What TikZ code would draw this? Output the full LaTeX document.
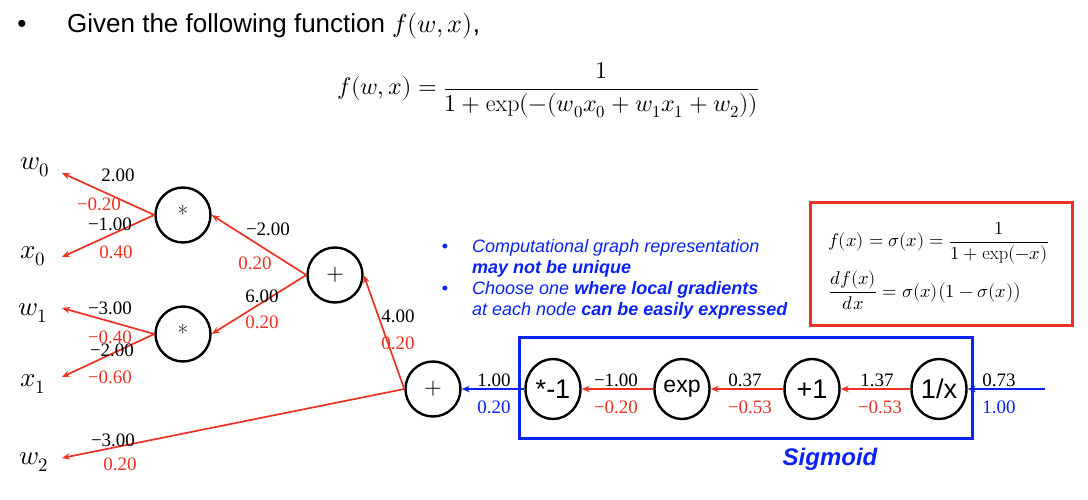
\documentclass[tikz,border=0pt]{standalone}
\usepackage{fontspec}
\usepackage{unicode-math}
\setmathfont{Latin Modern Math}
\setsansfont{Liberation Sans}
\newfontfamily\numfont{Liberation Serif}
\usetikzlibrary{arrows.meta,shapes.geometric}
\definecolor{ered}{RGB}{235,50,35}
\definecolor{eblue}{RGB}{10,35,245}
\newcommand{\myfs}[1]{\fontsize{#1}{#1}\selectfont}
\begin{document}
\begin{tikzpicture}[x=1pt,y=-1pt,
  gate/.style={circle,draw=black,line width=2.4pt,minimum size=55pt,inner sep=0pt,font=\myfs{23}},
  sgate/.style={ellipse,draw=black,line width=2.4pt,minimum width=55pt,minimum height=60pt,inner sep=0pt,font=\sffamily\myfs{27}},
  redarr/.style={draw=ered,line width=1.7pt,-{Stealth[length=8pt,width=6.5pt]}},
  bluearr/.style={draw=eblue,line width=1.7pt,-{Stealth[length=8pt,width=6.5pt]}},
  val/.style={inner sep=0pt,font=\numfont\myfs{19}},
  grad/.style={val,text=ered},
  bgrad/.style={val,text=eblue},
  inlab/.style={inner sep=0pt,font=\myfs{27}},
  btxt/.style={anchor=base west,inner sep=0pt,text=eblue,font=\sffamily\itshape\myfs{18}},
]
\useasboundingbox (0,0) rectangle (1088,500);

% title
\node[anchor=base,inner sep=0pt,font=\sffamily\myfs{26}] (bul) at (22,33) {\textbullet};
\node[anchor=base west,inner sep=0pt,font=\sffamily\myfs{26}] (title) at (67,33) {Given the following function $f(w,x)$,};
\node[anchor=base west,inner sep=0pt,font=\myfs{24}] (eq) at (337,95) {$f(w,x)=\dfrac{1}{1+\exp(-(w_0x_0+w_1x_1+w_2))}$};

% blue notes
\node[anchor=base,inner sep=0pt,text=eblue,font=\sffamily\myfs{18}] (b1) at (445,252) {\textbullet};
\node[btxt] (n1) at (472,252) {Computational graph representation};
\node[btxt] (n2) at (472,273) {\bfseries may not be unique};
\node[anchor=base,inner sep=0pt,text=eblue,font=\sffamily\myfs{18}] (b2) at (445,294) {\textbullet};
\node[btxt] (n3) at (472,294) {Choose one \textbf{where local gradients}};
\node[btxt] (n4) at (472,315) {at each node \textbf{can be easily expressed}};

% red box
\draw[ered,line width=3pt] (810,203) rectangle (1072,325);
\node[anchor=base west,inner sep=0pt,font=\myfs{18.5}] (s1) at (828,247) {$f(x)=\sigma(x)=\dfrac{1}{1+\exp(-x)}$};
\node[anchor=base west,inner sep=0pt,font=\myfs{18.5}] (s2) at (829,297) {$\dfrac{df(x)}{dx}=\sigma(x)\bigl(1-\sigma(x)\bigr)$};

% blue box
\draw[eblue,line width=3pt] (519,337) rectangle (972,438);
\node[inner sep=0pt,text=eblue,font=\sffamily\bfseries\itshape\myfs{24}] (sig) at (830,459) {Sigmoid};

% inputs
\node[inlab] (w0) at (35,167) {$w_0$};
\node[inlab] (x0) at (33,256) {$x_0$};
\node[inlab] (w1) at (33,313) {$w_1$};
\node[inlab] (x1) at (33,384) {$x_1$};
\node[inlab] (w2) at (34,462) {$w_2$};
\coordinate (tw0) at (62,173);
\coordinate (tx0) at (62,257);
\coordinate (tw1) at (62,308);
\coordinate (tx1) at (62,377);
\coordinate (tw2) at (62,458);
\coordinate (src) at (1045,389);

% gates
\node[gate] (m1) at (183,215) {\raisebox{2pt}{*}};
\node[gate] (m2) at (183,334) {\raisebox{2pt}{*}};
\node[gate] (p1) at (335,275) {$+$};
\node[gate] (p2) at (433,389) {$+$};
\node[sgate] (neg) at (553,389) {*-1};
\node[sgate,font=\sffamily\myfs{23}] (ex) at (682,389) {exp};
\node[sgate] (inc) at (812,389) {+1};
\node[sgate] (inv) at (939,389) {1/x};

% connectors
\draw[redarr] (m1.west) -- (tw0);
\draw[redarr] (m1.west) -- (tx0);
\draw[redarr] (m2.west) -- (tw1);
\draw[redarr] (m2.west) -- (tx1);
\draw[redarr] (p1.west) -- (m1.east);
\draw[redarr] (p1.west) -- (m2.east);
\draw[redarr] (p2.west) -- (p1.east);
\draw[redarr] (p2.west) -- (tw2);
\draw[bluearr] (neg.west) -- (p2.east);
\draw[redarr] (ex.west) -- (neg.east);
\draw[redarr] (inc.west) -- (ex.east);
\draw[redarr] (inv.west) -- (inc.east);
\draw[bluearr] (src) -- (inv.east);

% values
\node[val] (v1) at (118,175) {2.00};
\node[grad] (g1) at (99,204) {−0.20};
\node[val] (v2) at (110,224) {−1.00};
\node[grad] (g2) at (116,252) {0.40};
\node[val] (v3) at (110,308) {−3.00};
\node[grad] (g3) at (110,337) {−0.40};
\node[val] (v4) at (112,350) {−2.00};
\node[grad] (g4) at (110,377) {−0.60};
\node[val] (v5) at (268,229) {−2.00};
\node[grad] (g5) at (255,263) {0.20};
\node[val] (v6) at (262,296) {6.00};
\node[grad] (g6) at (262,322) {0.20};
\node[val] (v7) at (398,316) {4.00};
\node[grad] (g7) at (398,343) {0.20};
\node[val] (v8) at (113,440) {−3.00};
\node[grad] (g8) at (120,464) {0.20};
\node[val] (v9) at (494,380) {1.00};
\node[bgrad] (g9) at (494,407) {0.20};
\node[val] (v10) at (616,380) {−1.00};
\node[grad] (g10) at (616,407) {−0.20};
\node[val] (v11) at (745,380) {0.37};
\node[grad] (g11) at (750,407) {−0.53};
\node[val] (v12) at (877,380) {1.37};
\node[grad] (g12) at (880,407) {−0.53};
\node[val] (v13) at (999,380) {0.73};
\node[bgrad] (g13) at (999,407) {1.00};
\end{tikzpicture}
\end{document}
